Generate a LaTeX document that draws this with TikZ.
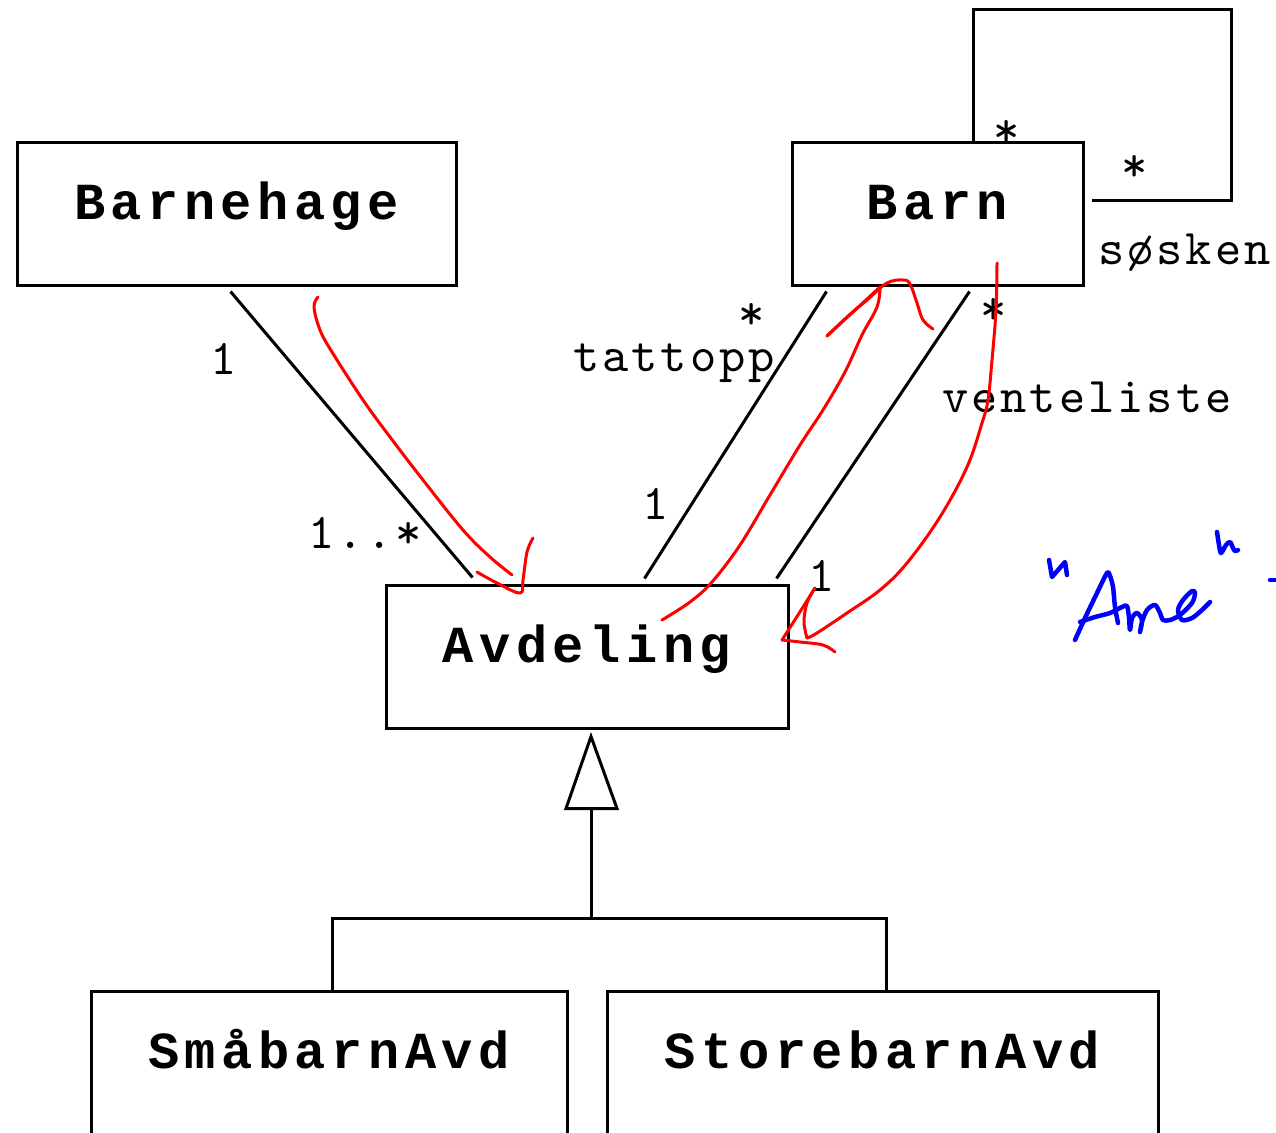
\documentclass[tikz,border=0pt]{standalone}
\usepackage{fontspec}
\newfontfamily\clsfont{Liberation Mono}[LetterSpace=10.6]
\newfontfamily\lblfont{lmmono10-regular.otf}[LetterSpace=6]
\usetikzlibrary{calc}
\begin{document}
\begin{tikzpicture}[x=1pt,y=-1pt,
  cls/.style={draw, line width=3pt, inner sep=0pt, font=\clsfont\bfseries\fontsize{52}{52}\selectfont, text height=31pt, text depth=20pt},
  lbl/.style={inner sep=0pt, font=\lblfont\fontsize{50}{50}\selectfont},
  assoc/.style={line width=3pt},
  redink/.style={draw=red, line width=3pt, line cap=round, line join=round},
  blueink/.style={draw=blue, line width=4.5pt, line cap=round, line join=round}]
\useasboundingbox (0,0) rectangle (1276,1132);
\fill[white] (0,0) rectangle (1276,1132);

% classes
\node[cls, minimum width=439pt, minimum height=143pt] (barnehage) at (236.5,213.5) {Barnehage};
\node[cls, minimum width=291pt, minimum height=143pt] (barn) at (937.5,213.5) {Barn};
\node[cls, minimum width=402pt, minimum height=143pt] (avdeling) at (587,656.5) {Avdeling};
\node[cls, minimum width=476pt, minimum height=143pt] (smaa) at (329,1062.5) {SmåbarnAvd};
\node[cls, minimum width=551pt, minimum height=143pt] (store) at (882.5,1062.5) {StorebarnAvd};

% associations
\draw[assoc] ($(barnehage.south west)+(215,5)$) -- ($(avdeling.north west)+(88,-6)$);
\draw[assoc] ($(barn.south west)+(36,5)$) -- ($(avdeling.north west)+(260,-5)$);
\draw[assoc] ($(barn.south west)+(179,5)$) -- ($(avdeling.north west)+(392,-5)$);
\draw[assoc, line join=miter] ($(barn.north west)+(183,0)$) -- ++(0,-131) -- ++(258,0) -- ++(0,191) -- ($(barn.north east)+(7,60)$);

% generalisation
\coordinate (tip) at ($(avdeling.south)+(4,7)$);
\draw[assoc, fill=white, line join=miter] (tip) -- ++(26,72) -- ++(-51,0) -- cycle;
\draw[assoc] ($(tip)+(0,72)$) -- ++(0,110) coordinate (junc);
\draw[assoc, line join=miter] ($(smaa.north)+(3,0)$) |- (junc) -| ($(store.north)+(3.5,0)$);

% labels
\node[lbl, anchor=base] (m1) at (224,374) {1};
\node[lbl, anchor=base west] (m2) at (308,548) {1..*};
\node[lbl] (m3) at (752,316) {*};
\node[lbl, anchor=base west] (tattopp) at (573,371) {tattopp};
\node[lbl, anchor=base] (m4) at (656,519) {1};
\node[lbl] (m5) at (994,311) {*};
\node[lbl, anchor=base west] (vente) at (942,412) {venteliste};
\node[lbl, anchor=base] (m6) at (822,591) {1};
\node[lbl] (m7) at (1007,133) {*};
\node[lbl] (m8) at (1135,168) {*};
\node[lbl, anchor=base west] (sosken) at (1098,264) {søsken};

% red handwriting
\draw[redink] plot[smooth, tension=0.6] coordinates {(318,297) (314,307) (320,330) (332,352) (363,400) (390,437) (423,480) (463,530) (490,557) (512,575)};
\draw[redink] plot[smooth, tension=0.6] coordinates {(477,572) (497,583) (520,593) (523,580) (527,552) (533,538)};
\draw[redink] plot[smooth, tension=0.6] coordinates {(662,620) (690,602) (712,582) (740,545) (770,495) (800,445) (823,410) (845,372) (862,335) (877,307) (880,287)};
\draw[redink] (880,287) -- (827,336);
\draw[redink] plot[smooth, tension=0.6] coordinates {(827,336) (847,317) (867,300) (887,283) (903,280) (910,284) (917,303) (923,320) (933,329)};
\draw[redink] plot[smooth, tension=0.6] coordinates {(997,263) (996,310) (992,360) (988,400) (982,423) (967,467) (940,517) (907,563) (880,590) (847,613) (817,633) (807,638)};
\draw[redink] plot[smooth, tension=0.6] coordinates {(807,638) (804,622) (807,603) (815,588)};
\draw[redink] (815,588) -- (798,615) -- (782,640);
\draw[redink] plot[smooth, tension=0.6] coordinates {(782,640) (800,642) (823,645) (835,652)};

% blue handwriting
\draw[blueink] (1049,560) -- (1052,577) -- (1065,562) -- (1067,575);
\draw[blueink] plot[smooth, tension=0.5] coordinates {(1217,532) (1219,545) (1221,553) (1226,545) (1230,542) (1233,548) (1235,551) (1238,550)};
\draw[blueink] plot[smooth, tension=0.5] coordinates {(1075,640) (1085,618) (1097,593) (1107,573) (1110,576) (1113,587) (1115,607) (1118,623)};
\draw[blueink] plot[smooth, tension=0.5] coordinates {(1080,622) (1095,617) (1110,613) (1122,607) (1127,606) (1129,618) (1130,630) (1132,618) (1137,613) (1142,620) (1140,632) (1142,622) (1147,610) (1155,605) (1160,613) (1163,620) (1170,620) (1180,615) (1192,603) (1195,593) (1192,591) (1183,600) (1178,610) (1182,620) (1192,618) (1202,610) (1210,602)};
\draw[blueink] (1270,580) -- (1276,580);
\end{tikzpicture}
\end{document}
